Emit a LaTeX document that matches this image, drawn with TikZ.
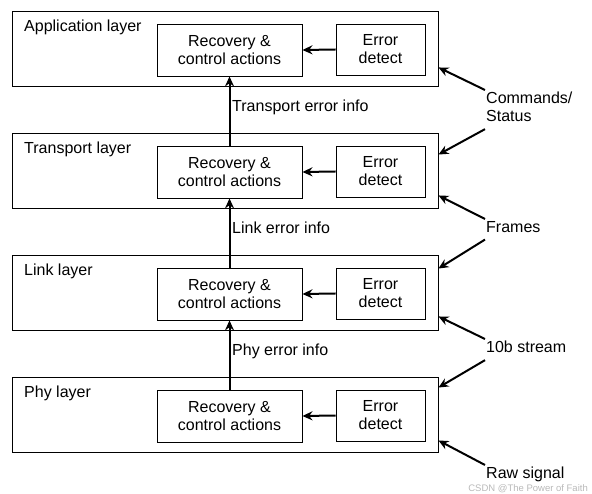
\documentclass[tikz,border=0pt]{standalone}
\usepackage{fontspec}
\setmainfont{Liberation Sans}
\usetikzlibrary{arrows.meta}
\begin{document}
\begin{tikzpicture}[x=1pt, y=-1pt,
    every node/.style={font=\fontsize{16}{18}\selectfont},
    layerbox/.style={draw, line width=0.9pt, minimum width=426pt, minimum height=75pt, inner sep=0pt},
    recbox/.style={draw, line width=0.9pt, minimum width=145pt, minimum height=52pt, inner sep=0pt, align=center},
    errbox/.style={draw, line width=0.9pt, minimum width=89pt, minimum height=51pt, inner sep=0pt, align=center},
    flow/.style={line width=2pt, -{Stealth[length=10pt, width=9pt]}},
    sidelbl/.style={anchor=north west, inner xsep=1pt, inner ysep=2pt, align=left}]
\useasboundingbox (0,0) rectangle (592,494);

% Layers with recovery and error detect blocks
\foreach \i/\name/\lbl in {0/app/Application layer, 1/trans/Transport layer, 2/link/Link layer, 3/phy/Phy layer} {
    \node[layerbox] (\name) at (225, 48.5+122*\i) {};
    \node[anchor=base west, inner sep=0pt] (\name-lbl) at (24, 32+122*\i) {\lbl};
    \node[recbox] (rec-\name) at (229.5, 50+122*\i) {Recovery \&\\control actions};
    \node[errbox] (err-\name) at (380.5, 49.5+122*\i) {Error\\detect};
    \draw[flow] (err-\name.west) -- (rec-\name.east);
}

% Error info passed upwards
\draw[flow] (rec-trans.north) -- (rec-app.south);
\draw[flow] (rec-link.north) -- (rec-trans.south);
\draw[flow] (rec-phy.north) -- (rec-link.south);
\node[anchor=base west, inner sep=0pt] (info-trans) at (232, 112) {Transport error info};
\node[anchor=base west, inner sep=0pt] (info-link) at (232, 234) {Link error info};
\node[anchor=base west, inner sep=0pt] (info-phy) at (232, 356) {Phy error info};

% Interfaces between layers
\node[sidelbl] (cmd) at (485, 90) {Commands/\\Status};
\node[sidelbl] (frames) at (485, 219) {Frames};
\node[sidelbl] (stream) at (485, 339) {10b stream};
\node[sidelbl] (raw) at (485, 465) {Raw signal};

\draw[flow] (cmd.north west) -- ([yshift=19pt]app.south east);
\draw[flow] ([yshift=-5pt]cmd.south west) -- ([yshift=-22pt]trans.north east);
\draw[flow] (frames.north west) -- ([yshift=13pt]trans.south east);
\draw[flow] ([yshift=-5pt]frames.south west) -- ([yshift=-14pt]link.north east);
\draw[flow] (stream.north west) -- ([yshift=14pt]link.south east);
\draw[flow] ([yshift=-5pt]stream.south west) -- ([yshift=-11pt]phy.north east);
\draw[flow] (raw.north west) -- ([yshift=12pt]phy.south east);

% Watermark
\node[anchor=base east, inner sep=0pt, text=gray!55, font=\fontsize{9.5}{11}\selectfont] (mark) at (588, 491) {CSDN @The Power of Faith};
\end{tikzpicture}
\end{document}
